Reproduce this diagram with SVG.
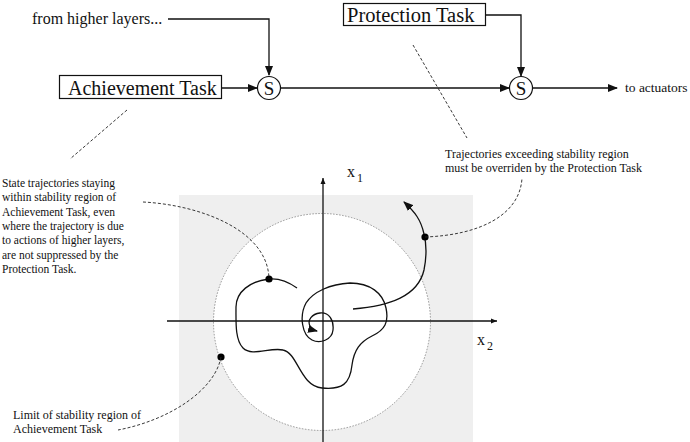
<svg xmlns="http://www.w3.org/2000/svg" width="690" height="442" viewBox="0 0 690 442">
<defs>
<style>
text{font-family:"Liberation Serif","Times New Roman",serif;fill:#111}
.big{font-size:20px}
.mid{font-size:16px}
.sm{font-size:12px}
.note{font-size:11.5px}
.ln{fill:none;stroke:#111;stroke-width:1.3}
.dash{fill:none;stroke:#222;stroke-width:0.9;stroke-dasharray:3,2}
.box{fill:#fff;stroke:#111;stroke-width:1.2}
.dot{fill:#000}
</style>
<marker id="ah" markerWidth="10" markerHeight="8" refX="9" refY="4" orient="auto" markerUnits="userSpaceOnUse">
<path d="M0,0 L10,4 L0,8 Z" fill="#111"/>
</marker>
<marker id="ahs" markerWidth="6" markerHeight="6" refX="6" refY="3" orient="auto" markerUnits="userSpaceOnUse">
<path d="M0,0.5 L6,3 L0,5.5 Z" fill="#111"/>
</marker>
</defs>
<rect x="0" y="0" width="690" height="442" fill="#fff"/>

<g id="plane">
<rect x="179" y="195" width="294" height="247" fill="#efefef"/>
<circle cx="322" cy="322" r="108.5" fill="#fff" stroke="#8a8a8a" stroke-width="0.9" stroke-dasharray="1.5,1.5"/>
<line class="ln" x1="167" y1="321" x2="497" y2="321" marker-end="url(#ahs)"/>
<line class="ln" x1="323" y1="442" x2="323" y2="178" marker-end="url(#ahs)"/>
<text class="mid" x="347" y="177">x</text><text class="sm" x="357" y="182">1</text>
<text class="mid" x="477" y="345">x</text><text class="sm" x="487" y="350">2</text>
</g>

<g id="trajectory1">
<path class="ln" marker-end="url(#ah)" d="M297,288 C290,283 280,278 269,279 C250,281 236,292 236,307 C236,322 235,340 243,348 C252,357 270,347 283,350 C298,353 300,386 322,388 C342,390 350,384 352,365 C354,350 360,342 372,336 C385,330 389,322 386,308 C383,293 370,283 350,283 C330,284 313,292 306,303 C299,316 302,335 312,340 C320,344 332,340 333,330 C334,320 329,312 320,313 C312,314 307,320 310,326 C311,328 313,330 317,331"/>
</g>
<g id="trajectory2">
<path class="ln" marker-end="url(#ah)" d="M353,309 C390,306 418,296 424,270 C427,255 426,242 424,234 C421,220 415,212 404,202"/>
</g>

<g id="dots">
<circle class="dot" cx="269" cy="279" r="3.6"/>
<circle class="dot" cx="425" cy="237" r="3.6"/>
<circle class="dot" cx="221" cy="357" r="3.6"/>
</g>

<g id="connectors">
<polyline class="ln" points="168,19 269,19 269,75" marker-end="url(#ah)"/>
<line class="ln" x1="222" y1="88" x2="257" y2="88" marker-end="url(#ah)"/>
<line class="ln" x1="281" y1="88" x2="509" y2="88" marker-end="url(#ah)"/>
<polyline class="ln" points="486,15 521,15 521,76" marker-end="url(#ah)"/>
<line class="ln" x1="532" y1="88" x2="617" y2="88" marker-end="url(#ah)"/>
<line class="dash" x1="127" y1="110" x2="70" y2="159"/>
<line class="dash" x1="413" y1="45" x2="467" y2="138"/>
<path class="dash" d="M143,202 C200,205 268,230 269,279"/>
<path class="dash" d="M425,237 C480,235 520,215 522,178"/>
<path class="dash" d="M221,357 C215,390 170,420 118,430"/>
</g>

<g id="from-higher">
<text class="mid" x="32" y="24">from higher layers...</text>
</g>
<g id="achievement-task">
<rect class="box" x="59.5" y="75.5" width="162" height="23"/>
<text class="big" x="68" y="95">Achievement Task</text>
</g>
<g id="s1">
<circle class="box" cx="269" cy="88" r="11.5"/>
<text class="big" x="269" y="95" text-anchor="middle" style="font-size:19px">S</text>
</g>
<g id="protection-task">
<rect class="box" x="343.5" y="3.5" width="142" height="22"/>
<text class="big" x="347" y="22" style="font-size:20.5px">Protection Task</text>
</g>
<g id="s2">
<circle class="box" cx="521" cy="88" r="11.5"/>
<text class="big" x="521" y="95" text-anchor="middle" style="font-size:19px">S</text>
</g>
<g id="actuators">
<text x="625" y="92" style="font-size:13.5px">to actuators</text>
</g>
<g id="note-protection">
<text class="sm" x="445" y="158">Trajectories exceeding stability region</text>
<text class="sm" x="445" y="172">must be overriden by the Protection Task</text>
</g>
<g id="note-within">
<text class="note" x="2" y="187">State trajectories staying</text>
<text class="note" x="2" y="201">within stability region of</text>
<text class="note" x="2" y="216">Achievement Task, even</text>
<text class="note" x="2" y="230">where the trajectory is due</text>
<text class="note" x="2" y="244">to actions of higher layers,</text>
<text class="note" x="2" y="259">are not suppressed by the</text>
<text class="note" x="2" y="273">Protection Task.</text>
</g>
<g id="note-limit">
<text class="sm" x="13" y="419">Limit of stability region of</text>
<text class="sm" x="13" y="433">Achievement Task</text>
</g>
</svg>
